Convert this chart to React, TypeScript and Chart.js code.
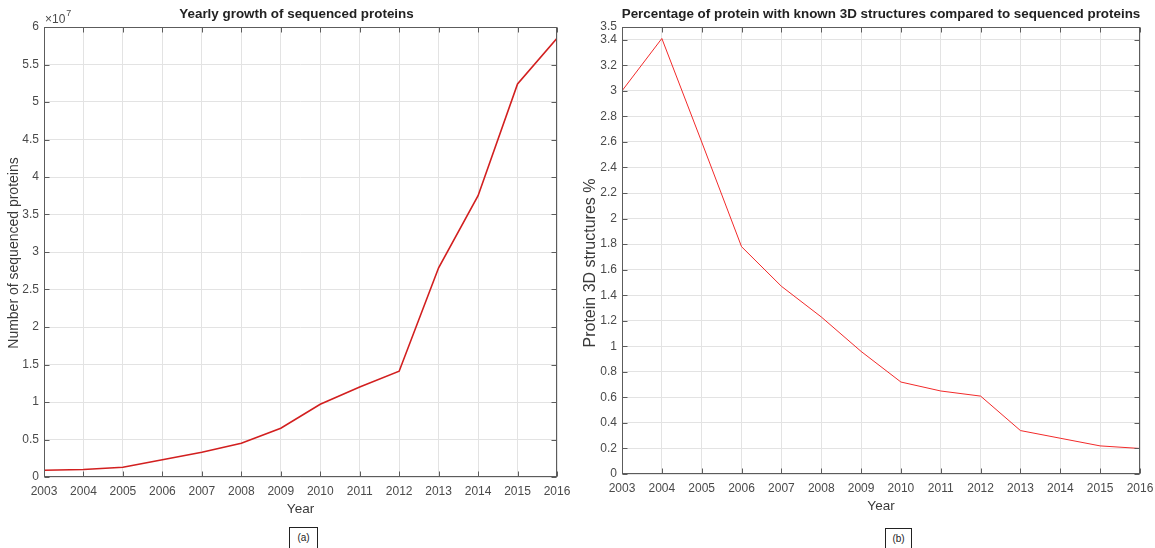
import React, { useEffect, useRef } from "react";
import { Chart, registerables } from "chart.js";

Chart.register(...registerables);

// ---------- data ----------
const years = [2003, 2004, 2005, 2006, 2007, 2008, 2009, 2010, 2011, 2012, 2013, 2014, 2015, 2016];
// number of sequenced proteins, in units of 10^7
const sequencedProteinsE7 = [0.09, 0.1, 0.13, 0.23, 0.33, 0.45, 0.65, 0.97, 1.2, 1.41, 2.79, 3.75, 5.24, 5.85];
// percentage of proteins with known 3D structure
const structurePercent = [3.0, 3.41, 2.6, 1.78, 1.47, 1.23, 0.96, 0.72, 0.65, 0.61, 0.34, 0.28, 0.22, 0.2];

const leftYTicks = [0, 0.5, 1, 1.5, 2, 2.5, 3, 3.5, 4, 4.5, 5, 5.5, 6];
const rightYTicks = [0, 0.2, 0.4, 0.6, 0.8, 1, 1.2, 1.4, 1.6, 1.8, 2, 2.2, 2.4, 2.6, 2.8, 3, 3.2, 3.4, 3.5];

const leftTitle = "Yearly growth of sequenced proteins";
const rightTitle = "Percentage of protein with known 3D structures compared to sequenced proteins";
const leftYLabel = "Number of sequenced proteins";
const rightYLabel = "Protein 3D structures %";
const xLabel = "Year";

const FONT = "'Liberation Sans', Arial, Helvetica, sans-serif";
const TICK_COLOR = "#4a4a4a";
const GRID_COLOR = "#e3e3e3";
const BOX_COLOR = "#5c5c5c";
const LABEL_COLOR = "#3a3a3a";

const boxPlugin = {
  id: "matlabBox",
  afterDraw(chart: any, _args: any, opts: any) {
    const { ctx, chartArea: a, scales } = chart;
    const L = Math.round(a.left) + 0.5;
    const R = Math.round(a.right) - 0.5;
    const T = Math.round(a.top) + 0.5;
    const B = Math.round(a.bottom) - 0.5;
    const len = 5;
    ctx.save();
    ctx.strokeStyle = BOX_COLOR;
    ctx.lineWidth = 1;
    ctx.beginPath();
    scales.x.ticks.forEach((t: any) => {
      const px = Math.round(scales.x.getPixelForValue(t.value)) + 0.5;
      ctx.moveTo(px, B);
      ctx.lineTo(px, B - len);
      ctx.moveTo(px, T);
      ctx.lineTo(px, T + len);
    });
    scales.y.ticks.forEach((t: any) => {
      const py = Math.round(scales.y.getPixelForValue(t.value)) + 0.5;
      ctx.moveTo(L, py);
      ctx.lineTo(L + len, py);
      ctx.moveTo(R, py);
      ctx.lineTo(R - len, py);
    });
    ctx.stroke();
    ctx.strokeRect(L, T, R - L, B - T);
    // title, centred over the axes (MATLAB style)
    if (opts && opts.title) {
      ctx.fillStyle = "#222";
      ctx.textAlign = "center";
      ctx.textBaseline = "middle";
      ctx.font = `bold 13.4px ${FONT}`;
      ctx.fillText(opts.title, (a.left + a.right) / 2 + opts.titleShift, 14);
    }
    // y-axis label
    if (opts && opts.yLabel) {
      ctx.save();
      ctx.translate(opts.yLabelX, opts.yLabelY);
      ctx.rotate(-Math.PI / 2);
      ctx.fillStyle = LABEL_COLOR;
      ctx.textAlign = "center";
      ctx.textBaseline = "middle";
      ctx.font = `${opts.yLabelSize}px ${FONT}`;
      ctx.fillText(opts.yLabel, 0, 0);
      ctx.restore();
    }
    if (opts && opts.exponent) {
      ctx.fillStyle = TICK_COLOR;
      ctx.textBaseline = "alphabetic";
      ctx.textAlign = "left";
      ctx.font = `12px ${FONT}`;
      ctx.fillText("\u00d710", a.left + 1, 23);
      const w = ctx.measureText("\u00d710").width;
      ctx.font = `9px ${FONT}`;
      ctx.fillText("7", a.left + 1 + w + 1, 16);
    }
    ctx.restore();
  },
};

function fmt(v: number) {
  return String(Number(v.toFixed(2)));
}

function makeConfig(p: {
  values: number[];
  color: string;
  width: number;
  yTicks: number[];
  yMax: number;
  title: string;
  titleShift: number;
  yLabel: string;
  yLabelSize: number;
  yLabelX: number;
  yLabelY: number;
  yWidth: number;
  xHeight: number;
  padRight: number;
  xTitlePadBottom: number;
  exponent: boolean;
}): any {
  return {
    type: "line",
    data: {
      datasets: [
        {
          data: years.map((y, i) => ({ x: y, y: p.values[i] })),
          borderColor: p.color,
          borderWidth: p.width,
          pointRadius: 0,
          tension: 0,
          fill: false,
        },
      ],
    },
    options: {
      responsive: false,
      animation: false,
      layout: { padding: { left: 0, right: p.padRight, top: 27, bottom: 0 } },
      plugins: {
        legend: { display: false },
        tooltip: { enabled: false },
        title: { display: false },
        matlabBox: {
          exponent: p.exponent,
          title: p.title,
          titleShift: p.titleShift,
          yLabel: p.yLabel,
          yLabelSize: p.yLabelSize,
          yLabelX: p.yLabelX,
          yLabelY: p.yLabelY,
        },
      },
      scales: {
        x: {
          type: "linear",
          min: years[0],
          max: years[years.length - 1],
          afterBuildTicks: (s: any) => {
            s.ticks = years.map((v) => ({ value: v }));
          },
          afterFit: (s: any) => {
            s.height = p.xHeight;
            s.paddingLeft = 0;
            s.paddingRight = 0;
          },
          ticks: {
            color: TICK_COLOR,
            font: { family: FONT, size: 12 },
            padding: 7,
            maxRotation: 0,
            autoSkip: false,
            callback: (v: any) => String(v),
          },
          grid: { color: GRID_COLOR, drawTicks: false },
          border: { display: false },
          title: {
            display: true,
            text: xLabel,
            color: LABEL_COLOR,
            font: { family: FONT, size: 13.5 },
            padding: { top: 0, bottom: p.xTitlePadBottom },
          },
        },
        y: {
          type: "linear",
          min: 0,
          max: p.yMax,
          afterBuildTicks: (s: any) => {
            s.ticks = p.yTicks.map((v) => ({ value: v }));
          },
          afterFit: (s: any) => {
            s.width = p.yWidth;
            s.paddingTop = 0;
            s.paddingBottom = 0;
          },
          ticks: {
            color: TICK_COLOR,
            font: { family: FONT, size: 12 },
            padding: 5,
            autoSkip: false,
            callback: (v: any) => fmt(v),
          },
          grid: { color: GRID_COLOR, drawTicks: false },
          border: { display: false },
          title: { display: false },
        },
      },
    },
    plugins: [boxPlugin],
  };
}

function ChartCanvas({ config, left, width }: { config: any; left: number; width: number }) {
  const ref = useRef<HTMLCanvasElement | null>(null);
  useEffect(() => {
    if (!ref.current) return;
    const chart = new Chart(ref.current, config);
    return () => chart.destroy();
  }, []);
  return (
    <canvas
      ref={ref}
      width={width}
      height={548}
      style={{ position: "absolute", left, top: 0, width, height: 548 }}
    />
  );
}

const labelBox = (left: number, top: number, w: number, text: string) => (
  <div
    style={{
      position: "absolute",
      left,
      top,
      width: w,
      height: 22,
      border: "1px solid #222",
      boxSizing: "border-box",
      font: `10px ${FONT}`,
      color: "#222",
      textAlign: "center",
      lineHeight: "20px",
      background: "#fff",
    }}
  >
    {text}
  </div>
);

export default function App() {
  const leftCfg = makeConfig({
    values: sequencedProteinsE7,
    color: "#d21f1f",
    width: 1.6,
    yTicks: leftYTicks,
    yMax: 6,
    title: leftTitle,
    titleShift: -4,
    yLabel: leftYLabel,
    yLabelSize: 14,
    yLabelX: 14,
    yLabelY: 253,
    yWidth: 44,
    xHeight: 71,
    padRight: 18,
    xTitlePadBottom: 31,
    exponent: true,
  });
  const rightCfg = makeConfig({
    values: structurePercent,
    color: "#f22a2a",
    width: 1,
    yTicks: rightYTicks,
    yMax: 3.5,
    title: rightTitle,
    titleShift: 0,
    yLabel: rightYLabel,
    yLabelSize: 16,
    yLabelX: 16,
    yLabelY: 263,
    yWidth: 47,
    xHeight: 74,
    padRight: 15,
    xTitlePadBottom: 34,
    exponent: false,
  });
  return (
    <div style={{ position: "absolute", left: 0, top: 0, width: 1155, height: 548, background: "#fff", overflow: "hidden" }}>
      <ChartCanvas config={leftCfg} left={0} width={575} />
      <ChartCanvas config={rightCfg} left={575} width={580} />
      {labelBox(289, 527, 29, "(a)")}
      {labelBox(885, 528, 27, "(b)")}
    </div>
  );
}
